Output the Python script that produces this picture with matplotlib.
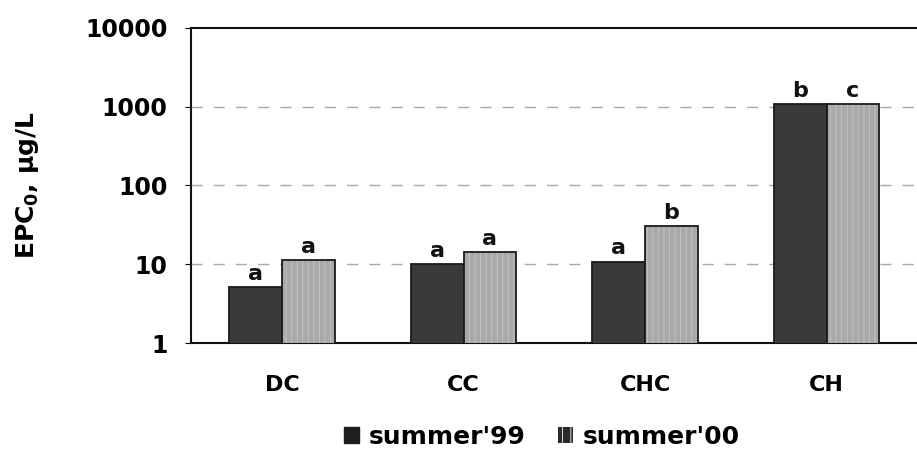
import numpy as np
import matplotlib.pyplot as plt
from matplotlib.patches import Patch

plt.rcParams['font.family'] = ['DejaVu Sans']
plt.rcParams['hatch.linewidth'] = 0.7

sites = ['DC', 'CC', 'CHC', 'CH']
summer_99 = [5.1, 10.0, 10.8, 1080]
summer_00 = [11.3, 14.3, 30.5, 1070]
letters_99 = ['a', 'a', 'a', 'b']
letters_00 = ['a', 'a', 'b', 'c']
y_ticks = [1, 10, 100, 1000, 10000]

fig = plt.figure(figsize=(9.17, 4.63), dpi=100)
ax = fig.add_axes([0.2085, 0.259, 0.8, 0.681])

x = np.arange(len(sites))
w = 0.29
b1 = ax.bar(x - w / 2, summer_99, w, color='#3a3a3a', edgecolor='#1a1a1a',
            linewidth=1.3, zorder=3)
# light bars: faint vertical streaks, then a dark outline on top
b2 = ax.bar(x + w / 2, summer_00, w, color='#a9a9a9', edgecolor='#c2c2c2',
            linewidth=0, hatch='|||', zorder=3)
ax.bar(x + w / 2, summer_00, w, facecolor='none', edgecolor='#1a1a1a',
       linewidth=1.3, zorder=4)

for bars, labs in ((b1, letters_99), (b2, letters_00)):
    for bar, lab in zip(bars, labs):
        ax.text(bar.get_x() + bar.get_width() / 2, bar.get_height() * 1.1, lab,
                ha='center', va='bottom', fontsize=16, fontweight='bold',
                color='#111111')

ax.set_yscale('log')
ax.set_ylim(1, 10000)
ax.set_xlim(-0.5, 3.54)
ax.set_yticks(y_ticks)
ax.set_yticklabels([str(t) for t in y_ticks], fontweight='bold')
ax.minorticks_off()
ax.tick_params(axis='y', labelsize=17, length=4, width=0.8, pad=13)
ax.tick_params(axis='x', labelsize=16, length=0, pad=23)
ax.set_xticks(x)
ax.set_xticklabels(sites, fontweight='bold')
for g in y_ticks[1:-1]:
    ax.axhline(g, color='#a8a8a8', linestyle=(0, (8, 8)), linewidth=1.0, zorder=1)

for s in ['left', 'bottom', 'top']:
    ax.spines[s].set_linewidth(1.5)
    ax.spines[s].set_color('#111111')
ax.spines['right'].set_visible(False)

ax.set_ylabel(r'EPC$_\mathbf{0}$, $\mathbf{\mu}$g/L', fontsize=18,
              fontweight='bold', labelpad=32)

handles = [Patch(facecolor='#1e1e1e', edgecolor='#1e1e1e'),
           Patch(facecolor='#2a2a2a', edgecolor='#dddddd', hatch='||', linewidth=0)]
fig.legend(handles=handles, labels=["summer'99", "summer'00"], loc='center',
           bbox_to_anchor=(0.591, 0.056), ncol=2, frameon=False,
           prop={'size': 18, 'weight': 'bold'},
           handlelength=0.6, handleheight=0.6, handletextpad=0.4,
           columnspacing=1.3)

fig.savefig('out.png', dpi=100)
